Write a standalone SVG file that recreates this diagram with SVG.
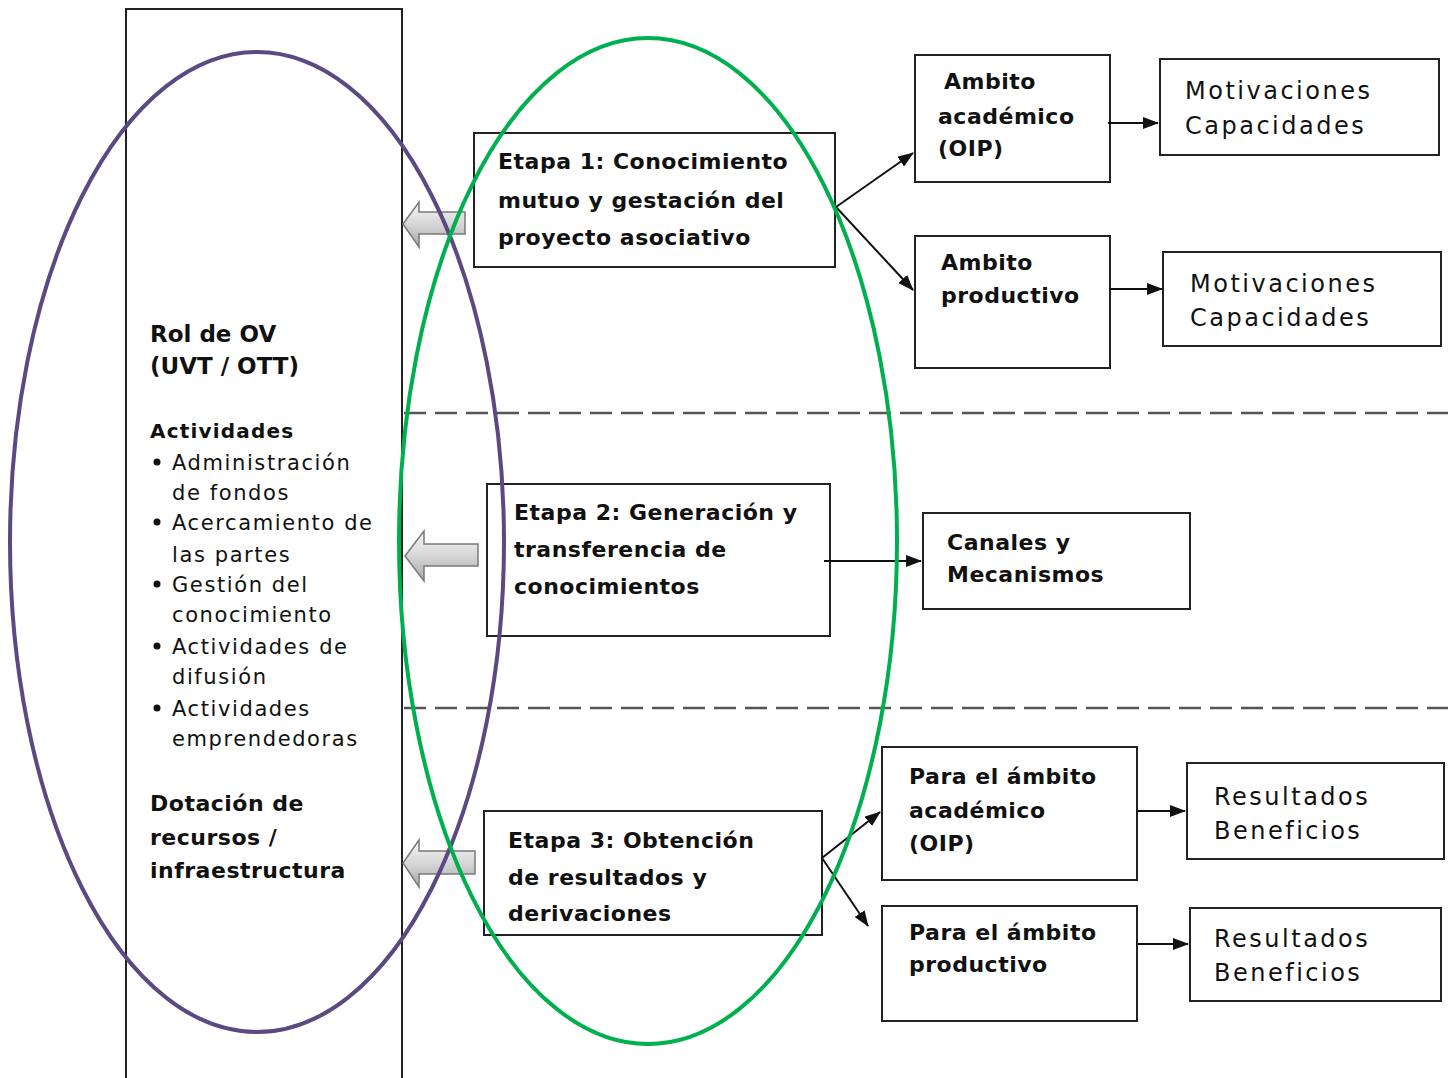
<svg xmlns="http://www.w3.org/2000/svg" width="1448" height="1078" viewBox="0 0 1448 1078">
<defs>
<style>
.box{fill:#fff;stroke:#222;stroke-width:2}
.b{font-family:"DejaVu Sans",Verdana,sans-serif;font-weight:bold;font-size:22px;fill:#111;letter-spacing:0.5px}
.r{font-family:"DejaVu Sans",Verdana,sans-serif;font-size:24px;fill:#111;letter-spacing:2.5px}
.s{font-family:"DejaVu Sans",Verdana,sans-serif;font-size:21px;fill:#111;letter-spacing:1.6px}
.conn{stroke:#111;stroke-width:2;fill:none;marker-end:url(#ah)}
.dash{stroke:#555;stroke-width:2.5;stroke-dasharray:22 9;fill:none}
.blk{fill:url(#gg);stroke:#7a7a7a;stroke-width:1.5}
</style>
<marker id="ah" viewBox="0 0 16 12" refX="15" refY="6" markerWidth="16" markerHeight="12" markerUnits="userSpaceOnUse" orient="auto">
<path d="M0,0 L16,6 L0,12 Z" fill="#111"/>
</marker>
<linearGradient id="gg" x1="0" y1="0" x2="0" y2="1">
<stop offset="0" stop-color="#f6f6f6"/>
<stop offset="0.5" stop-color="#d6d6d6"/>
<stop offset="1" stop-color="#a8a8a8"/>
</linearGradient>
</defs>
<rect width="1448" height="1078" fill="#fff"/>

<g id="left-panel">
<path d="M126,1078 L126,9 L402,9 L402,1078" fill="none" stroke="#222" stroke-width="2"/>
<text class="b" x="150" y="342" style="font-size:23px;letter-spacing:0">Rol de OV</text>
<text class="b" x="150" y="374" style="font-size:23px;letter-spacing:0">(UVT / OTT)</text>
<text class="b" x="150" y="438" style="font-size:20px;letter-spacing:1.2px">Actividades</text>
<circle cx="157" cy="462" r="3.5" fill="#111"/>
<text class="s" x="172" y="470">Administración</text>
<text class="s" x="172" y="500">de fondos</text>
<circle cx="157" cy="522" r="3.5" fill="#111"/>
<text class="s" x="172" y="530">Acercamiento de</text>
<text class="s" x="172" y="562">las partes</text>
<circle cx="157" cy="584" r="3.5" fill="#111"/>
<text class="s" x="172" y="592">Gestión del</text>
<text class="s" x="172" y="622">conocimiento</text>
<circle cx="157" cy="646" r="3.5" fill="#111"/>
<text class="s" x="172" y="654">Actividades de</text>
<text class="s" x="172" y="684">difusión</text>
<circle cx="157" cy="708" r="3.5" fill="#111"/>
<text class="s" x="172" y="716">Actividades</text>
<text class="s" x="172" y="746">emprendedoras</text>
<text class="b" x="150" y="811">Dotación de</text>
<text class="b" x="150" y="845">recursos /</text>
<text class="b" x="150" y="878">infraestructura</text>
</g>

<g id="separators">
<line class="dash" x1="404" y1="413" x2="1448" y2="413"/>
<line class="dash" x1="404" y1="708" x2="1448" y2="708"/>
</g>

<g id="block-arrows">
<path class="blk" d="M403,224 L419,202 L419,212 L465,212 L465,234 L419,234 L419,247 Z"/>
<path class="blk" d="M405,556 L424,531 L424,544 L478,544 L478,566 L424,566 L424,581 Z"/>
<path class="blk" d="M403,863 L419,840 L419,851 L475,851 L475,874 L419,874 L419,887 Z"/>
</g>

<g id="etapa1">
<rect class="box" x="474" y="133" width="361" height="134"/>
<text class="b" x="498" y="169">Etapa 1: Conocimiento</text>
<text class="b" x="498" y="208">mutuo y gestación del</text>
<text class="b" x="498" y="245">proyecto asociativo</text>
</g>
<g id="ambito-academico">
<rect class="box" x="915" y="55" width="195" height="127"/>
<text class="b" x="944" y="89">Ambito</text>
<text class="b" x="938" y="124">académico</text>
<text class="b" x="938" y="156">(OIP)</text>
</g>
<g id="motivaciones1">
<rect class="box" x="1160" y="59" width="279" height="96"/>
<text class="r" x="1185" y="99">Motivaciones</text>
<text class="r" x="1185" y="134">Capacidades</text>
</g>
<g id="ambito-productivo">
<rect class="box" x="915" y="236" width="195" height="132"/>
<text class="b" x="941" y="270">Ambito</text>
<text class="b" x="941" y="303">productivo</text>
</g>
<g id="motivaciones2">
<rect class="box" x="1163" y="252" width="278" height="94"/>
<text class="r" x="1190" y="292">Motivaciones</text>
<text class="r" x="1190" y="326">Capacidades</text>
</g>
<g id="etapa2">
<rect class="box" x="487" y="484" width="343" height="152"/>
<text class="b" x="514" y="520">Etapa 2: Generación y</text>
<text class="b" x="514" y="557">transferencia de</text>
<text class="b" x="514" y="594">conocimientos</text>
</g>
<g id="canales">
<rect class="box" x="923" y="513" width="267" height="96"/>
<text class="b" x="947" y="550">Canales y</text>
<text class="b" x="947" y="582">Mecanismos</text>
</g>
<g id="etapa3">
<rect class="box" x="484" y="811" width="338" height="124"/>
<text class="b" x="508" y="848">Etapa 3: Obtención</text>
<text class="b" x="508" y="885">de resultados  y</text>
<text class="b" x="508" y="921">derivaciones</text>
</g>
<g id="para-academico">
<rect class="box" x="882" y="747" width="255" height="133"/>
<text class="b" x="909" y="784">Para el ámbito</text>
<text class="b" x="909" y="818">académico</text>
<text class="b" x="909" y="851">(OIP)</text>
</g>
<g id="resultados1">
<rect class="box" x="1187" y="763" width="257" height="96"/>
<text class="r" x="1214" y="805">Resultados</text>
<text class="r" x="1214" y="839">Beneficios</text>
</g>
<g id="para-productivo">
<rect class="box" x="882" y="906" width="255" height="115"/>
<text class="b" x="909" y="940">Para el ámbito</text>
<text class="b" x="909" y="972">productivo</text>
</g>
<g id="resultados2">
<rect class="box" x="1190" y="908" width="251" height="93"/>
<text class="r" x="1214" y="947">Resultados</text>
<text class="r" x="1214" y="981">Beneficios</text>
</g>

<g id="connectors">
<line class="conn" x1="836" y1="207" x2="913" y2="153"/>
<line class="conn" x1="836" y1="207" x2="913" y2="290"/>
<line class="conn" x1="1108" y1="123" x2="1158" y2="123"/>
<line class="conn" x1="1110" y1="289" x2="1162" y2="289"/>
<line class="conn" x1="824" y1="561" x2="921" y2="561"/>
<line class="conn" x1="822" y1="858" x2="880" y2="812"/>
<line class="conn" x1="822" y1="858" x2="868" y2="926"/>
<line class="conn" x1="1137" y1="811" x2="1185" y2="811"/>
<line class="conn" x1="1137" y1="944" x2="1188" y2="944"/>
</g>

<g id="ellipses">
<ellipse cx="257" cy="542" rx="247" ry="490" fill="none" stroke="#5b4a82" stroke-width="4"/>
<ellipse cx="648" cy="541" rx="249" ry="503" fill="none" stroke="#00b04f" stroke-width="4"/>
</g>
</svg>
